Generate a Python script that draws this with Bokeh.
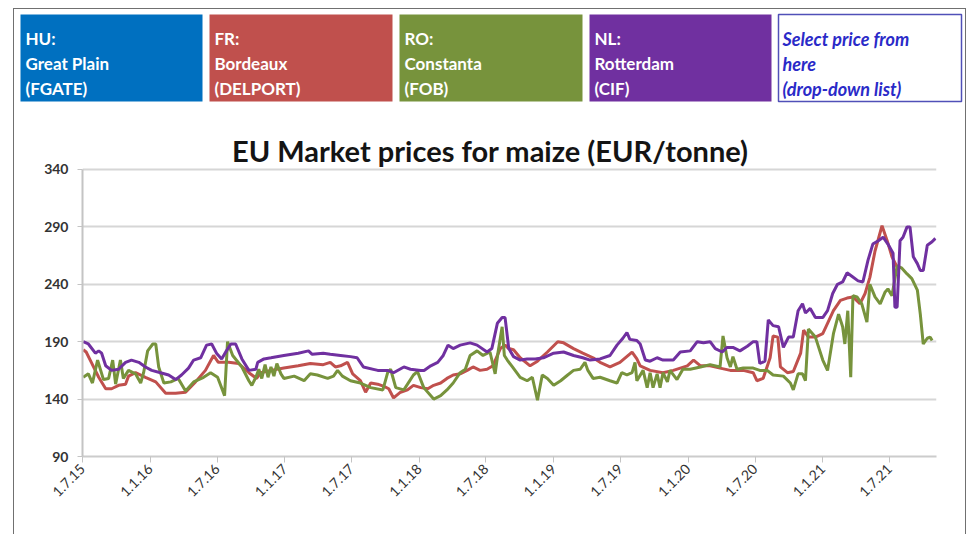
import math
import pandas as pd
from bokeh.plotting import figure
from bokeh.layouts import column
from bokeh.models import Range1d, FixedTicker
from bokeh.core.properties import value
from bokeh.embed import file_html
from bokeh.resources import INLINE

# ---------------- data ----------------
TITLE = "EU Market prices for maize (EUR/tonne)"
header_lines = [["HU:", "Great Plain", "(FGATE)"],
                ["FR:", "Bordeaux", "(DELPORT)"],
                ["RO:", "Constanta", "(FOB)"],
                ["NL:", "Rotterdam", "(CIF)"]]
select_lines = ["Select price from", "here", "(drop-down list)"]
box_colors = ["#0070C0", "#C0504D", "#77933C", "#7030A0"]

tick_dates = ["2015-07-01", "2016-01-01", "2016-07-01", "2017-01-01", "2017-07-01",
              "2018-01-01", "2018-07-01", "2019-01-01", "2019-07-01", "2020-01-01",
              "2020-07-01", "2021-01-01", "2021-07-01"]
tick_labels = ["1.7.15", "1.1.16", "1.7.16", "1.1.17", "1.7.17", "1.1.18", "1.7.18",
               "1.1.19", "1.7.19", "1.1.20", "1.7.20", "1.1.21", "1.7.21"]
y_ticks = [90, 140, 190, 240, 290, 340]

fr_dates = (["2015-07-03", "2015-07-11", "2015-07-25", "2015-08-14", "2015-09-02", "2015-09-18",
             "2015-10-07", "2015-10-26", "2015-11-03", "2015-11-22", "2015-12-19"] +
            ["2016-01-16", "2016-02-12", "2016-03-10", "2016-04-06", "2016-05-03", "2016-05-30",
             "2016-06-21", "2016-07-04", "2016-08-01", "2016-08-28", "2016-09-25", "2016-10-16",
             "2016-10-27", "2016-11-24", "2016-12-29"] +
            ["2017-02-06", "2017-03-11", "2017-04-15", "2017-05-04", "2017-05-18", "2017-06-01",
             "2017-06-20", "2017-07-04", "2017-07-25", "2017-08-08", "2017-08-22", "2017-09-10",
             "2017-09-27", "2017-10-10", "2017-10-23", "2017-11-11", "2017-11-30", "2017-12-16"] +
            ["2018-01-05", "2018-01-24", "2018-02-09", "2018-02-28", "2018-03-17", "2018-04-03",
             "2018-04-22", "2018-05-11", "2018-05-27", "2018-06-15", "2018-07-04", "2018-07-20",
             "2018-08-09", "2018-08-22", "2018-09-01", "2018-09-14", "2018-10-02", "2018-10-29",
             "2018-11-18", "2018-12-15"] +
            ["2019-01-12", "2019-01-28", "2019-02-24", "2019-03-21", "2019-04-18", "2019-05-07",
             "2019-06-03", "2019-06-30", "2019-08-02", "2019-08-15", "2019-08-24", "2019-09-20",
             "2019-10-25", "2019-11-22", "2019-12-30"] +
            ["2020-01-16", "2020-02-04", "2020-03-01", "2020-03-28", "2020-04-25", "2020-05-30",
             "2020-06-26", "2020-07-06", "2020-07-23", "2020-08-11", "2020-08-19", "2020-09-01",
             "2020-09-08", "2020-09-27", "2020-10-13", "2020-11-02", "2020-11-10", "2020-11-23",
             "2020-12-12"] +
            ["2021-01-01", "2021-01-14", "2021-01-30", "2021-02-18", "2021-03-08", "2021-03-24",
             "2021-04-12", "2021-04-26", "2021-05-09", "2021-05-23", "2021-06-11", "2021-06-25",
             "2021-07-08", "2021-07-22"])
fr_values = ([183, 181, 172, 159, 149, 149, 152, 153, 160, 163, 159] +
             [155, 145, 145, 146, 155, 165, 178, 172, 172, 171, 163, 158, 163, 165, 167] +
             [169, 171, 170, 172, 168, 169, 172, 162, 156, 146, 154, 153, 151, 149, 141, 146, 148, 152] +
             [150, 149, 152, 154, 158, 161, 162, 165, 168, 165, 166, 169, 184, 187, 184, 183, 176, 169, 173, 181] +
             [190, 189, 184, 180, 176, 172, 168, 172, 181, 175, 169, 165, 163, 165, 169] +
             [174, 169, 169, 167, 165, 165, 163, 156, 158, 176, 195, 194, 168, 163, 164, 180, 200, 194, 194] +
             [197, 206, 217, 226, 228, 229, 223, 232, 246, 269, 291, 278, 264, 255])

ro_dates = (["2015-07-03", "2015-07-17", "2015-07-28", "2015-08-11", "2015-08-27", "2015-09-10",
             "2015-09-21", "2015-09-29", "2015-10-12", "2015-10-20", "2015-11-03", "2015-11-22",
             "2015-12-06", "2015-12-14", "2015-12-25"] +
            ["2016-01-08", "2016-01-16", "2016-01-24", "2016-02-07", "2016-02-26", "2016-03-17",
             "2016-04-06", "2016-04-28", "2016-05-25", "2016-06-13", "2016-07-02", "2016-07-21",
             "2016-07-29", "2016-08-12", "2016-09-06", "2016-09-25", "2016-10-03", "2016-10-14",
             "2016-10-22", "2016-10-30", "2016-11-08", "2016-11-16", "2016-11-24", "2016-12-02",
             "2016-12-10", "2016-12-21", "2016-12-29"] +
            ["2017-01-26", "2017-02-22", "2017-03-11", "2017-03-30", "2017-04-27", "2017-05-13",
             "2017-05-24", "2017-06-06", "2017-06-28", "2017-07-25", "2017-08-22", "2017-09-24",
             "2017-10-07", "2017-10-15", "2017-10-29", "2017-11-20", "2017-12-16", "2017-12-27"] +
            ["2018-01-13", "2018-02-09", "2018-02-28", "2018-03-17", "2018-04-03", "2018-04-22",
             "2018-05-06", "2018-05-19", "2018-06-07", "2018-06-23", "2018-07-12", "2018-07-26",
             "2018-08-03", "2018-08-14", "2018-08-20", "2018-08-28", "2018-09-11", "2018-10-02",
             "2018-10-21", "2018-11-04", "2018-11-18", "2018-12-01", "2018-12-15"] +
            ["2019-01-01", "2019-01-20", "2019-02-08", "2019-02-24", "2019-03-14", "2019-03-27",
             "2019-04-04", "2019-04-18", "2019-05-07", "2019-06-03", "2019-06-22", "2019-07-05",
             "2019-07-19", "2019-08-02", "2019-08-10", "2019-08-15", "2019-09-01", "2019-09-12",
             "2019-09-20", "2019-09-28", "2019-10-09", "2019-10-17", "2019-10-25", "2019-11-06",
             "2019-11-13", "2019-12-02", "2019-12-18"] +
            ["2020-01-07", "2020-02-04", "2020-03-01", "2020-03-28", "2020-04-05", "2020-04-16",
             "2020-04-25", "2020-05-02", "2020-05-13", "2020-05-30", "2020-06-26", "2020-07-14",
             "2020-08-03", "2020-08-19", "2020-09-16", "2020-10-05", "2020-10-13", "2020-10-26",
             "2020-11-07", "2020-11-15", "2020-11-23", "2020-12-12"] +
            ["2021-01-01", "2021-01-14", "2021-01-30", "2021-02-13", "2021-02-24", "2021-03-02",
             "2021-03-10", "2021-03-18", "2021-03-24", "2021-04-04", "2021-04-17", "2021-05-01",
             "2021-05-09", "2021-05-23", "2021-06-06", "2021-06-19", "2021-06-27", "2021-07-08",
             "2021-07-22", "2021-08-04", "2021-08-18", "2021-08-31", "2021-09-15", "2021-09-23",
             "2021-10-01", "2021-10-12", "2021-10-20", "2021-10-25"])
ro_values = ([159, 162, 154, 174, 157, 158, 174, 153, 174, 158, 165, 162, 154, 163, 182] +
             [188, 188, 168, 154, 155, 158, 147, 155, 159, 163, 159, 143, 190, 178, 168, 156, 152,
              159, 166, 158, 170, 159, 168, 160, 171, 162, 158] +
             [160, 156, 162, 161, 158, 160, 165, 160, 156, 154, 150, 148, 163, 166, 150, 148, 161, 164] +
             [150, 140, 143, 148, 154, 163, 166, 178, 182, 178, 181, 162, 181, 203, 178, 174, 168,
              159, 156, 159, 139, 161, 158] +
             [152, 156, 161, 165, 166, 172, 165, 158, 159, 156, 154, 163, 161, 163, 172, 156, 165,
              150, 163, 150, 162, 150, 163, 155, 165, 157, 166] +
             [166, 168, 170, 168, 195, 176, 168, 177, 166, 167, 167, 165, 165, 161, 160, 154, 148,
              162, 162, 156, 201, 194] +
             [174, 165, 197, 214, 203, 188, 217, 159, 230, 229, 223, 207, 240, 229, 223, 233, 236,
              230, 256, 254, 249, 245, 235, 214, 188, 193, 194, 191])

nl_dates = (["2015-07-03", "2015-07-17", "2015-08-05", "2015-08-14", "2015-08-22", "2015-09-02",
             "2015-09-18", "2015-10-07", "2015-10-26", "2015-11-11", "2015-12-01", "2015-12-19"] +
            ["2016-01-05", "2016-01-29", "2016-02-20", "2016-03-10", "2016-03-26", "2016-04-14",
             "2016-04-28", "2016-05-17", "2016-06-02", "2016-06-16", "2016-06-29", "2016-07-13",
             "2016-07-26", "2016-08-07", "2016-08-20", "2016-09-06", "2016-09-25", "2016-10-14",
             "2016-10-19", "2016-11-05", "2016-11-24", "2016-12-29"] +
            ["2017-02-06", "2017-03-06", "2017-03-16", "2017-04-15", "2017-05-04", "2017-06-01",
             "2017-06-28", "2017-07-16", "2017-08-02", "2017-09-10", "2017-10-07", "2017-10-23",
             "2017-11-20", "2017-12-08"] +
            ["2018-01-05", "2018-01-14", "2018-02-01", "2018-02-20", "2018-03-07", "2018-03-20",
             "2018-04-03", "2018-04-22", "2018-05-19", "2018-06-07", "2018-07-04", "2018-07-17",
             "2018-08-01", "2018-08-14", "2018-08-22", "2018-09-01", "2018-09-14", "2018-10-02",
             "2018-10-21", "2018-11-12", "2018-12-04"] +
            ["2019-01-01", "2019-01-28", "2019-02-24", "2019-03-21", "2019-04-10", "2019-05-07",
             "2019-06-03", "2019-06-22", "2019-07-08", "2019-07-19", "2019-07-27", "2019-08-15",
             "2019-08-24", "2019-09-07", "2019-09-20", "2019-10-09", "2019-10-25", "2019-11-22",
             "2019-12-11"] +
            ["2020-01-07", "2020-01-26", "2020-02-12", "2020-03-01", "2020-03-15", "2020-04-03",
             "2020-04-16", "2020-05-02", "2020-05-21", "2020-06-10", "2020-06-26", "2020-07-06",
             "2020-07-14", "2020-07-28", "2020-08-06", "2020-08-19", "2020-09-03", "2020-09-16",
             "2020-09-30", "2020-10-13", "2020-10-26", "2020-11-07", "2020-11-15", "2020-11-28",
             "2020-12-12"] +
            ["2021-01-01", "2021-01-14", "2021-01-28", "2021-02-10", "2021-02-24", "2021-03-08",
             "2021-03-21", "2021-04-07", "2021-04-20", "2021-05-04", "2021-05-17", "2021-06-01",
             "2021-06-14", "2021-06-27", "2021-07-11", "2021-07-16", "2021-07-22", "2021-07-30",
             "2021-08-07", "2021-08-18", "2021-08-26", "2021-09-04", "2021-09-15", "2021-09-23",
             "2021-10-01", "2021-10-12", "2021-10-25", "2021-11-03"])
nl_values = ([190, 188, 180, 182, 180, 169, 165, 166, 172, 174, 172, 168] +
             [165, 163, 161, 157, 161, 167, 174, 176, 187, 188, 180, 175, 182, 188, 188, 175, 165,
              166, 172, 175, 176, 178] +
             [180, 182, 179, 180, 179, 178, 177, 176, 168, 165, 165, 163, 168, 166] +
             [165, 165, 169, 172, 178, 187, 184, 187, 189, 187, 181, 184, 206, 211, 211, 184, 177,
              174, 175, 175, 176] +
             [180, 181, 178, 176, 174, 175, 178, 187, 193, 198, 192, 191, 188, 174, 173, 176, 174,
              174, 181] +
             [182, 190, 189, 190, 184, 181, 185, 185, 182, 186, 190, 190, 171, 173, 209, 204, 203,
              185, 194, 194, 217, 223, 215, 219, 211] +
             [211, 217, 232, 240, 242, 250, 247, 243, 242, 261, 275, 278, 281, 275, 267, 220, 220,
              278, 281, 290, 290, 264, 258, 252, 252, 274, 277, 280])

START = pd.Timestamp("2015-07-01")


def to_days(ds):
    return [int((pd.Timestamp(d) - START).days) for d in ds]


FONT = value("Lato")

# ---------------- header (boxes) ----------------
H_W, H_H = 951, 109
header = figure(width=H_W, height=H_H, x_range=Range1d(0, H_W), y_range=Range1d(H_H, 0),
                output_backend="svg", toolbar_location=None, min_border=0,
                x_axis_location=None, y_axis_location=None)
header.grid.visible = False
header.outline_line_color = None

box_left = [6, 195, 385, 575]
box_right = [188, 378, 568, 757]
header.quad(left=box_left, right=box_right, top=[5] * 4, bottom=[92] * 4,
            fill_color=box_colors, line_color=None)
header.quad(left=[764], right=[947], top=[5], bottom=[92], fill_color="white",
            line_color="#5050b8", line_width=1.5)

line_y = [29, 54, 79]
tx, ty, tt = [], [], []
for i, lines in enumerate(header_lines):
    for j, t in enumerate(lines):
        tx.append(box_left[i] + 5)
        ty.append(line_y[j])
        tt.append(t)
header.text(x=tx, y=ty, text=tt, text_font=FONT, text_font_style="bold",
            text_font_size="17px", text_color="white", text_baseline="middle")
header.text(x=[768] * 3, y=line_y, text=select_lines, text_font=FONT,
            text_font_style="bold italic", text_font_size="18px", text_color="#2a2ac8",
            text_baseline="middle")

# ---------------- chart ----------------
X_END = 2320
Y_TOP = 384.4   # space above 340 holds the title
p = figure(width=951, height=416, x_range=Range1d(0, X_END), y_range=Range1d(90, Y_TOP),
           output_backend="svg", toolbar_location=None,
           min_border_left=68, min_border_right=29, min_border_top=0, min_border_bottom=78)
p.outline_line_color = None
p.xgrid.visible = False
p.ygrid.grid_line_color = "#d6d6d6"
p.ygrid.grid_line_width = 2

for fig in (header, p):
    if hasattr(fig, "frame_align"):
        fig.frame_align = False

p.line(to_days(fr_dates), fr_values, line_color="#C0504D", line_width=3)
p.line(to_days(ro_dates), ro_values, line_color="#77933C", line_width=3)
p.line(to_days(nl_dates), nl_values, line_color="#7030A0", line_width=3)

p.text(x=[1108], y=[356.5], text=[TITLE], text_font=FONT, text_font_style="bold",
       text_font_size="29px", text_color="#141414", text_align="center",
       text_baseline="alphabetic")

p.yaxis.bounds = (90, 340)
p.yaxis.ticker = FixedTicker(ticks=y_ticks)
p.yaxis.axis_line_color = "#c4c4c4"
p.yaxis.axis_line_width = 2
p.yaxis.major_tick_line_color = "#c4c4c4"
p.yaxis.major_tick_out = 5
p.yaxis.major_tick_in = 0
p.yaxis.minor_tick_line_color = None
p.yaxis.major_label_standoff = 9
p.yaxis.major_label_text_font = "Lato"
p.yaxis.major_label_text_font_size = "14px"
p.yaxis.major_label_text_font_style = "bold"
p.yaxis.major_label_text_color = "#333333"

tick_days = to_days(tick_dates)
p.xaxis.ticker = FixedTicker(ticks=tick_days)
p.xaxis.major_label_overrides = {d: l for d, l in zip(tick_days, tick_labels)}
p.xaxis.major_label_orientation = math.pi / 4
p.xaxis.axis_line_color = "#cccccc"
p.xaxis.axis_line_width = 2
p.xaxis.major_tick_line_color = "#c4c4c4"
p.xaxis.major_tick_out = 6
p.xaxis.major_tick_in = 0
p.xaxis.minor_tick_line_color = None
p.xaxis.major_label_standoff = 4
p.xaxis.major_label_text_font = "Lato"
p.xaxis.major_label_text_font_size = "14px"
p.xaxis.major_label_text_color = "#333333"

layout = column(header, p, margin=(8, 0, 0, 13),
                styles={"border-top": "1px solid #707070", "border-left": "1px solid #707070",
                        "border-right": "1px solid #707070"})

open("out.html", "w").write(file_html(layout, INLINE))
